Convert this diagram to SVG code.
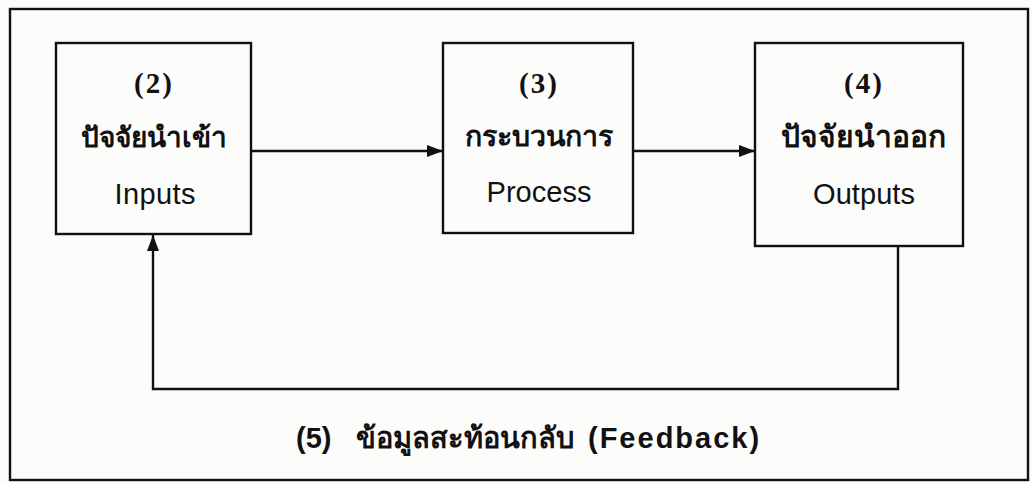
<svg xmlns="http://www.w3.org/2000/svg" width="1032" height="483" viewBox="0 0 1032 483">
<style>
.box{fill:none;stroke:#111;stroke-width:2.4}
.ln{fill:none;stroke:#111;stroke-width:2.4}
.num{font-family:"Liberation Serif",serif;font-weight:bold;font-size:29px;fill:#111;text-anchor:middle;letter-spacing:2px}
.th{font-family:"Liberation Sans","Noto Sans",sans-serif;font-weight:bold;fill:#111;text-anchor:middle}
.en{font-family:"Liberation Sans",sans-serif;font-size:29px;fill:#111;text-anchor:middle}
.fb{font-family:"Liberation Sans","Noto Sans",sans-serif;font-size:29px;fill:#111;font-weight:bold}
</style>
<defs>
<marker id="ah" viewBox="0 0 16 12" refX="16" refY="6" markerWidth="16" markerHeight="12" markerUnits="userSpaceOnUse" orient="auto">
<path d="M0,0 L16,6 L0,12 z" fill="#111"/>
</marker>
</defs>
<rect x="0" y="0" width="1032" height="483" fill="#fcfcfb"/>
<rect x="10" y="9" width="1018" height="471" class="box"/>
<g id="connectors">
<line x1="251" y1="151" x2="443" y2="151" class="ln" marker-end="url(#ah)"/>
<line x1="633" y1="151" x2="755" y2="151" class="ln" marker-end="url(#ah)"/>
<polyline points="898,246 898,389 153,389 153,235" class="ln" marker-end="url(#ah)"/>
</g>
<g id="inputs">
<rect x="56" y="43" width="195" height="191" class="box"/>
<text x="154" y="93" class="num">(2)</text>
<text x="154" y="147" class="th" font-size="28">ปัจจัยนำเข้า</text>
<text x="155" y="204" class="en" textLength="81" lengthAdjust="spacing">Inputs</text>
</g>
<g id="process">
<rect x="443" y="43" width="190" height="190" class="box"/>
<text x="539" y="93" class="num">(3)</text>
<text x="539" y="146" class="th" font-size="28.5">กระบวนการ</text>
<text x="539" y="202" class="en" textLength="105" lengthAdjust="spacing">Process</text>
</g>
<g id="outputs">
<rect x="755" y="43" width="208" height="203" class="box"/>
<text x="864" y="93" class="num">(4)</text>
<text x="863" y="147" class="th" font-size="30">ปัจจัยนำออก</text>
<text x="864" y="204" class="en" textLength="102" lengthAdjust="spacing">Outputs</text>
</g>
<g id="feedback">
<text x="296" y="448" class="fb">(5)</text>
<text x="356" y="448" class="fb" font-size="27.5">ข้อมูลสะท้อนกลับ</text>
<text x="588" y="448" class="fb" letter-spacing="2">(Feedback)</text>
</g>
</svg>
